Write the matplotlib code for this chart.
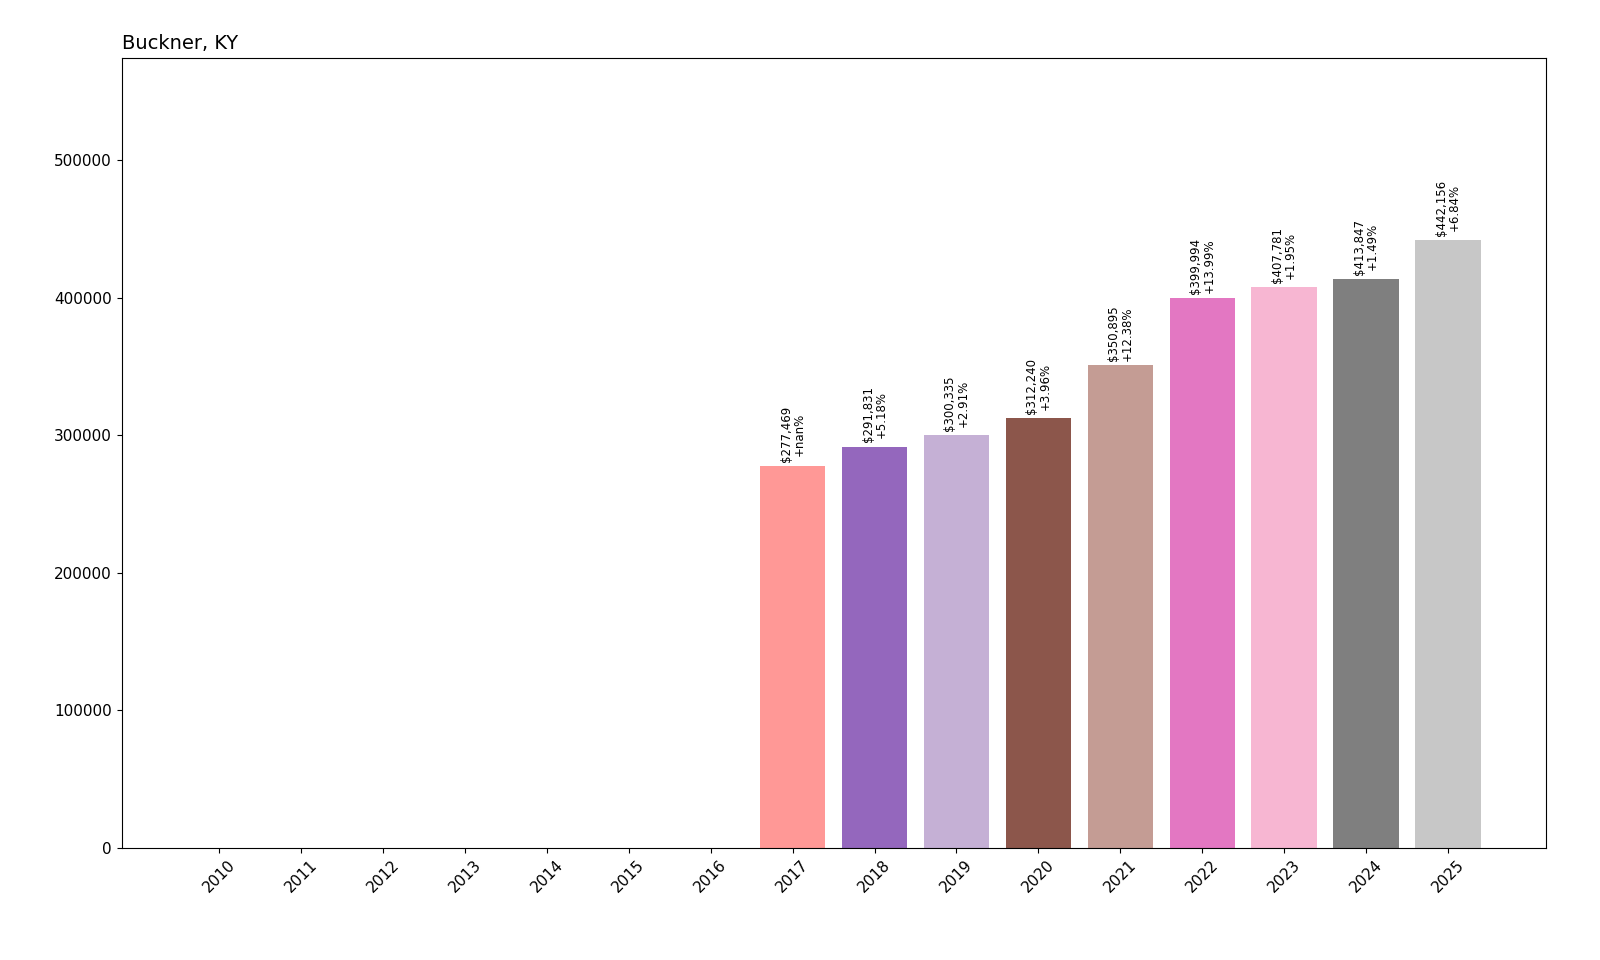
import matplotlib
matplotlib.use('Agg')
import matplotlib.pyplot as plt
import numpy as np

# Data
years = [2010, 2011, 2012, 2013, 2014, 2015, 2016, 2017, 2018, 2019, 2020,
         2021, 2022, 2023, 2024, 2025]
values = [0, 0, 0, 0, 0, 0, 0, 277469, 291831, 300335, 312240,
          350895, 399994, 407781, 413847, 442156]
pct_labels = [None] * 7 + ['+nan%', '+5.18%', '+2.91%', '+3.96%', '+12.38%',
                           '+13.99%', '+1.95%', '+1.49%', '+6.84%']

fig = plt.figure(figsize=(16, 9.6), dpi=100)
ax = fig.add_axes([0.076, 0.117, 0.89, 0.823])

colors = [plt.cm.tab20(i) for i in range(len(years))]
x = np.arange(len(years))
bars = ax.bar(x, values, color=colors)

for bar, val, pct in zip(bars, values, pct_labels):
    if pct is None:
        continue
    ax.text(bar.get_x() + bar.get_width() / 2, val + 3000,
            f'${val:,}\n{pct}', ha='center', va='bottom',
            rotation=90, fontsize=8.5, linespacing=1.0)

ax.set_xticks(x)
ax.set_xticklabels([str(y) for y in years], rotation=45, fontsize=11)
ax.tick_params(axis='y', labelsize=11)
ax.set_ylim(0, max(values) * 1.3)
ax.set_title('Buckner, KY', loc='left', fontsize=14)

plt.savefig('out.png', dpi=100)
plt.close()
